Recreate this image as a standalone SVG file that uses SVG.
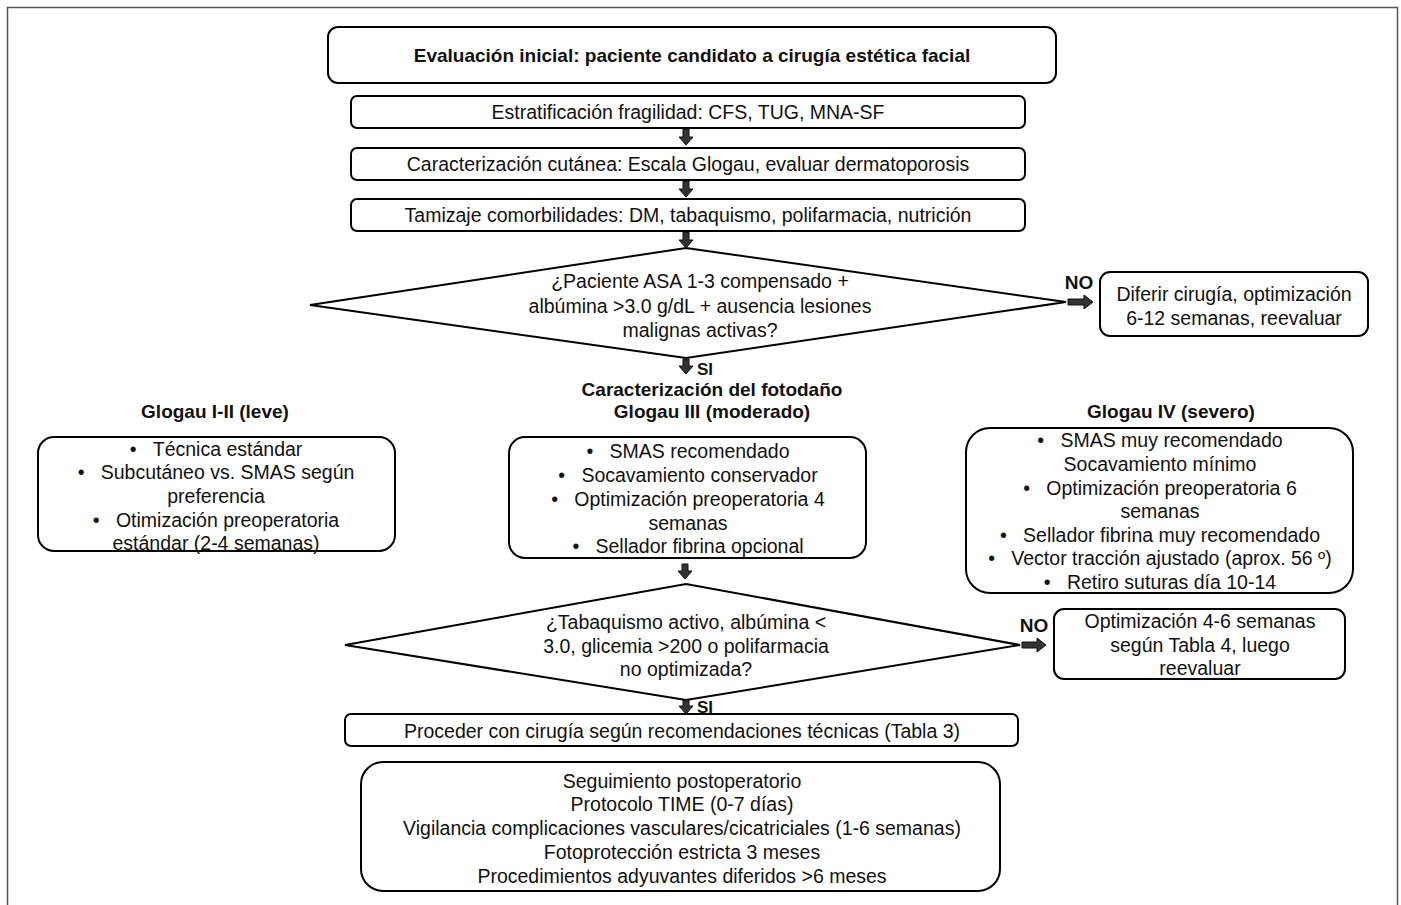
<svg xmlns="http://www.w3.org/2000/svg" width="1401" height="905" viewBox="0 0 1401 905">
<style>
.bx{fill:#fff;stroke:#000;stroke-width:2}
.t{font-family:"Liberation Sans",Arial,sans-serif;font-size:19.5px;fill:#111;text-anchor:middle}
.b{font-family:"Liberation Sans",Arial,sans-serif;font-size:19px;font-weight:bold;fill:#111;text-anchor:middle}
.s{font-family:"Liberation Sans",Arial,sans-serif;font-size:17px;font-weight:bold;fill:#111;text-anchor:middle}
.ar{fill:#333;stroke:#111;stroke-width:1}
</style>
<rect x="0" y="0" width="1401" height="905" fill="#fff"/>
<rect x="7.5" y="7.5" width="1390" height="920" fill="none" stroke="#555" stroke-width="1.5"/>

<g id="n_eval">
<rect class="bx" x="328" y="27" width="728" height="56" rx="10"/>
<text class="b" x="692" y="62">Evaluación inicial: paciente candidato a cirugía estética facial</text>
</g>
<g id="n_estrat">
<rect class="bx" x="351" y="96" width="674" height="32" rx="6"/>
<text class="t" x="688" y="119">Estratificación fragilidad: CFS, TUG, MNA-SF</text>
</g>
<g id="n_cutanea">
<rect class="bx" x="351" y="148" width="674" height="32" rx="6"/>
<text class="t" x="688" y="171">Caracterización cutánea: Escala Glogau, evaluar dermatoporosis</text>
</g>
<g id="n_tamizaje">
<rect class="bx" x="351" y="199" width="674" height="32" rx="6"/>
<text class="t" x="688" y="222">Tamizaje comorbilidades: DM, tabaquismo, polifarmacia, nutrición</text>
</g>
<g id="n_dec1">
<polygon class="bx" points="686,248 1066,302 686,358 310,305"/>
<text class="t" x="700" y="288">¿Paciente ASA 1-3 compensado +</text>
<text class="t" x="700" y="313">albúmina &gt;3.0 g/dL + ausencia lesiones</text>
<text class="t" x="700" y="337">malignas activas?</text>
</g>
<g id="n_diferir">
<rect class="bx" x="1100" y="272" width="268" height="64" rx="10"/>
<text class="t" x="1234" y="301">Diferir cirugía, optimización</text>
<text class="t" x="1234" y="325">6-12 semanas, reevaluar</text>
</g>
<g id="n_fotodano">
<text class="b" x="712" y="396">Caracterización del fotodaño</text>
<text class="b" x="712" y="418">Glogau III (moderado)</text>
</g>
<g id="n_leve">
<text class="b" x="215" y="418">Glogau I-II (leve)</text>
<rect class="bx" x="38" y="437" width="357" height="114" rx="16"/>
<text class="t" x="216" y="456">•&#160;&#160;&#160;Técnica estándar</text>
<text class="t" x="216" y="479">•&#160;&#160;&#160;Subcutáneo vs. SMAS según</text>
<text class="t" x="216" y="503">preferencia</text>
<text class="t" x="216" y="527">•&#160;&#160;&#160;Otimización preoperatoria</text>
<text class="t" x="216" y="550">estándar (2-4 semanas)</text>
</g>
<g id="n_moderado">
<rect class="bx" x="509" y="437" width="357" height="121" rx="16"/>
<text class="t" x="688" y="458">•&#160;&#160;&#160;SMAS recomendado</text>
<text class="t" x="688" y="482">•&#160;&#160;&#160;Socavamiento conservador</text>
<text class="t" x="688" y="506">•&#160;&#160;&#160;Optimización preoperatoria 4</text>
<text class="t" x="688" y="530">semanas</text>
<text class="t" x="688" y="553">•&#160;&#160;&#160;Sellador fibrina opcional</text>
</g>
<g id="n_severo">
<text class="b" x="1171" y="418">Glogau IV (severo)</text>
<rect class="bx" x="966" y="428" width="387" height="165" rx="24"/>
<text class="t" x="1160" y="447">•&#160;&#160;&#160;SMAS muy recomendado</text>
<text class="t" x="1160" y="471">Socavamiento mínimo</text>
<text class="t" x="1160" y="495">•&#160;&#160;&#160;Optimización preoperatoria 6</text>
<text class="t" x="1160" y="518">semanas</text>
<text class="t" x="1160" y="542">•&#160;&#160;&#160;Sellador fibrina muy recomendado</text>
<text class="t" x="1160" y="565">•&#160;&#160;&#160;Vector tracción ajustado (aprox. 56 º)</text>
<text class="t" x="1160" y="589">•&#160;&#160;&#160;Retiro suturas día 10-14</text>
</g>
<g id="n_dec2">
<polygon class="bx" points="686,584 1020,645 686,700 345,645"/>
<text class="t" x="686" y="629">¿Tabaquismo activo, albúmina &lt;</text>
<text class="t" x="686" y="653">3.0, glicemia &gt;200 o polifarmacia</text>
<text class="t" x="686" y="676">no optimizada?</text>
</g>
<g id="n_optim">
<rect class="bx" x="1054" y="609" width="291" height="70" rx="10"/>
<text class="t" x="1200" y="628">Optimización 4-6 semanas</text>
<text class="t" x="1200" y="652">según Tabla 4, luego</text>
<text class="t" x="1200" y="675">reevaluar</text>
</g>
<g id="n_proceder">
<rect class="bx" x="345" y="714" width="673" height="32" rx="6"/>
<text class="t" x="682" y="738">Proceder con cirugía según recomendaciones técnicas (Tabla 3)</text>
</g>
<g id="n_seguimiento">
<rect class="bx" x="361" y="762" width="639" height="129" rx="22"/>
<text class="t" x="682" y="788">Seguimiento postoperatorio</text>
<text class="t" x="682" y="811">Protocolo TIME (0-7 días)</text>
<text class="t" x="682" y="835">Vigilancia complicaciones vasculares/cicatriciales (1-6 semanas)</text>
<text class="t" x="682" y="859">Fotoprotección estricta 3 meses</text>
<text class="t" x="682" y="883">Procedimientos adyuvantes diferidos &gt;6 meses</text>
</g>

<g id="connectors">
<path class="ar" d="M683,129 H689 V137 H693 L686,145 L679,137 H683 Z"/>
<path class="ar" d="M683,181 H689 V189 H693 L686,197 L679,189 H683 Z"/>
<path class="ar" d="M683,232 H689 V240 H693 L686,248 L679,240 H683 Z"/>
<path class="ar" d="M683,359 H689 V366 H693 L686,374 L679,366 H683 Z"/>
<path class="ar" d="M682,564 H688 V571 H692 L685,579 L678,571 H682 Z"/>
<path class="ar" d="M683,700 H689 V706 H693 L686,714 L679,706 H683 Z"/>
<path class="ar" d="M1068,299 H1084 V295 L1093,302 L1084,309 V305 H1068 Z"/>
<path class="ar" d="M1022,642 H1037 V638 L1046,645 L1037,652 V648 H1022 Z"/>
<text class="b" x="1079" y="289">NO</text>
<text class="b" x="1034" y="632">NO</text>
<text class="s" x="705" y="375">SI</text>
<text class="s" x="705" y="713">SI</text>
</g>
</svg>
